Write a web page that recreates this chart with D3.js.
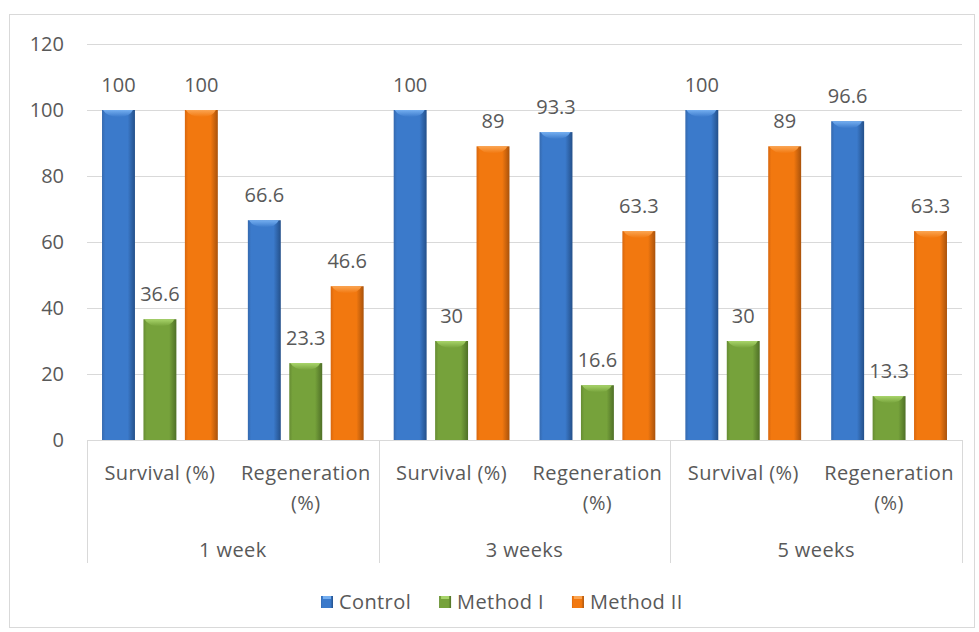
<!DOCTYPE html>
<html>
<head>
<meta charset="utf-8">
<script src="https://cdn.jsdelivr.net/npm/d3@7"></script>
<style>
  html, body { margin: 0; padding: 0; background: #fff; }
  svg text { font-family: "Open Sans", "Noto Sans", sans-serif; fill: #595959; }
</style>
</head>
<body>
<svg id="chart" width="979" height="632"></svg>
<script>
// ---- data ----
const groups = ["1 week", "3 weeks", "5 weeks"];
const measures = ["Survival (%)", "Regeneration (%)"];
const seriesNames = ["Control", "Method I", "Method II"];
const control  = [100, 66.6, 100, 93.3, 100, 96.6];
const methodI  = [36.6, 23.3, 30, 16.6, 30, 13.3];
const methodII = [100, 46.6, 89, 63.3, 89, 63.3];
const yTicks = [0, 20, 40, 60, 80, 100, 120];

(function () {
const seriesValues = [control, methodI, methodII];
const cats = [];
groups.forEach((g, gi) => measures.forEach((m, mi) => cats.push({ key: g + "|" + m, group: g, measure: m, idx: gi * measures.length + mi })));

const svg = d3.select("#chart");

// border
svg.append("rect").attr("x", 9.5).attr("y", 14.5).attr("width", 965).attr("height", 613)
  .attr("fill", "#fff").attr("stroke", "#d9d9d9").attr("stroke-width", 1);

const pLeft = 87, pRight = 962, pTop = 44, pBottom = 440;
const y = d3.scaleLinear().domain([0, 120]).range([pBottom, pTop]);
const x0 = d3.scaleBand().domain(cats.map(c => c.key)).range([pLeft, pRight]).paddingInner(0).paddingOuter(0);
const catW = x0.bandwidth();
const x1 = d3.scaleBand().domain(seriesNames).range([catW * 0.103, catW * 0.897]).paddingInner(0.205).paddingOuter(0);

const palettes = {
  "Control":   { ledge: "#3569ae", edge: "#24508a", mid: "#3b7acb", cap: "#74aef0" },
  "Method I":  { ledge: "#668c33", edge: "#4f7027", mid: "#76a23b", cap: "#a8d46a" },
  "Method II": { ledge: "#d8670e", edge: "#a9520b", mid: "#f2780f", cap: "#fba552" }
};
const defs = svg.append("defs");
seriesNames.forEach((s, i) => {
  const p = palettes[s];
  const g = defs.append("linearGradient").attr("id", "g" + i).attr("x1", "0").attr("x2", "1").attr("y1", "0").attr("y2", "0");
  g.append("stop").attr("offset", "0").attr("stop-color", p.ledge);
  g.append("stop").attr("offset", "0.1").attr("stop-color", p.mid);
  g.append("stop").attr("offset", "0.78").attr("stop-color", p.mid);
  g.append("stop").attr("offset", "1").attr("stop-color", p.edge);
  const c = defs.append("linearGradient").attr("id", "c" + i).attr("x1", "0").attr("x2", "0").attr("y1", "0").attr("y2", "1");
  c.append("stop").attr("offset", "0").attr("stop-color", p.cap);
  c.append("stop").attr("offset", "1").attr("stop-color", p.mid);
});

// gridlines
svg.append("g").selectAll("line").data(yTicks.filter(t => t > 0)).join("line")
  .attr("x1", pLeft).attr("x2", pRight)
  .attr("y1", d => Math.round(y(d)) + 0.5).attr("y2", d => Math.round(y(d)) + 0.5)
  .attr("stroke", "#d9d9d9").attr("stroke-width", 1);

// y tick labels
svg.append("g").selectAll("text").data(yTicks).join("text")
  .attr("x", 64).attr("y", d => y(d)).attr("dy", "0.35em")
  .attr("text-anchor", "end").attr("font-size", 20)
  .text(d => d);

// bars
const barData = [];
cats.forEach(c => seriesNames.forEach((s, si) => barData.push({ cat: c, series: s, si, v: seriesValues[si][c.idx] })));

const bars = svg.append("g");
barData.forEach(d => {
  const bx = x0(d.cat.key) + x1(d.series);
  const bw = x1.bandwidth();
  const by = y(d.v);
  const bh = y(0) - by;
  bars.append("rect").attr("x", bx).attr("y", by).attr("width", bw).attr("height", bh)
    .attr("fill", `url(#g${d.si})`);
  const capH = 7, inset = 5;
  bars.append("path")
    .attr("d", `M${bx + 1},${by} L${bx + bw - 2},${by} Q${bx + bw - inset},${by + capH} ${bx + bw / 2},${by + capH} Q${bx + inset},${by + capH} ${bx + 1},${by} Z`)
    .attr("fill", `url(#c${d.si})`);
});

// data labels
svg.append("g").selectAll("text").data(barData).join("text")
  .attr("x", d => x0(d.cat.key) + x1(d.series) + x1.bandwidth() / 2)
  .attr("y", d => y(d.v) - 25).attr("dy", "0.35em")
  .attr("text-anchor", "middle").attr("font-size", 20)
  .text(d => d.v);

// x axis line
svg.append("line").attr("x1", pLeft).attr("x2", pRight).attr("y1", pBottom + 0.5).attr("y2", pBottom + 0.5)
  .attr("stroke", "#d9d9d9");
// group separators
const groupBounds = groups.map((g, gi) => pLeft + gi * catW * measures.length).concat([pRight]);
svg.append("g").selectAll("line").data(groupBounds).join("line")
  .attr("x1", d => Math.round(d) + 0.5).attr("x2", d => Math.round(d) + 0.5)
  .attr("y1", pBottom).attr("y2", 563)
  .attr("stroke", "#d9d9d9");

// subcategory labels
const subG = svg.append("g");
cats.forEach(c => {
  const cx = x0(c.key) + catW / 2;
  const t = subG.append("text").attr("x", cx).attr("y", 473).attr("dy", "0.35em")
    .attr("text-anchor", "middle").attr("font-size", 20).attr("letter-spacing", "0.4px");
  if (c.measure.startsWith("Regeneration")) {
    t.append("tspan").attr("x", cx).text("Regeneration");
    t.append("tspan").attr("x", cx).attr("dy", 30).text("(%)");
  } else {
    t.text(c.measure);
  }
});

// group labels
svg.append("g").selectAll("text").data(groups).join("text")
  .attr("x", (d, i) => (groupBounds[i] + groupBounds[i + 1]) / 2)
  .attr("y", 550).attr("dy", "0.35em")
  .attr("text-anchor", "middle").attr("font-size", 20).attr("letter-spacing", "0.4px")
  .text(d => d);

// legend
const lg = svg.append("g");
let lx = 321;
seriesNames.forEach((s, i) => {
  const p = palettes[s];
  lg.append("rect").attr("x", lx).attr("y", 596).attr("width", 12).attr("height", 12)
    .attr("fill", `url(#g${i})`);
  lg.append("rect").attr("x", lx + 2).attr("y", 596).attr("width", 8).attr("height", 3)
    .attr("fill", p.cap);
  const t = lg.append("text").attr("x", lx + 18).attr("y", 602).attr("dy", "0.35em")
    .attr("font-size", 20).attr("letter-spacing", "0.4px").text(s);
  const tw = t.node().getComputedTextLength();
  lx = lx + 18 + tw + 28;
});
})();
</script>
</body>
</html>
